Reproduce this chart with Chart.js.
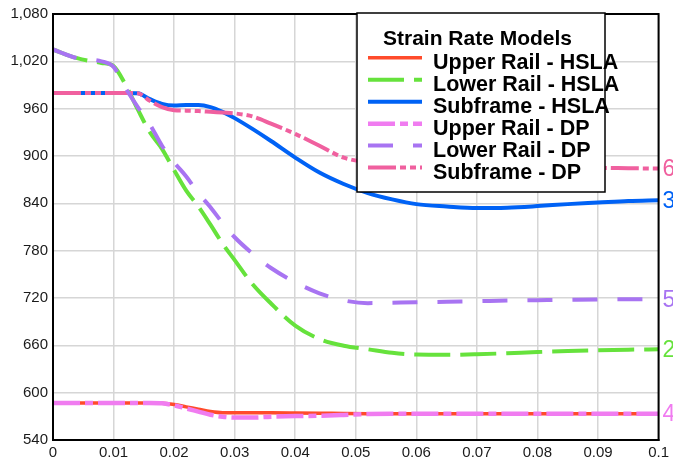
<!DOCTYPE html>
<html>
<head>
<meta charset="utf-8">
<script src="https://cdn.jsdelivr.net/npm/chart.js@4/dist/chart.umd.min.js"></script>
<style>
html,body{margin:0;padding:0;background:#fff;}
#wrap{width:673px;height:466px;}
</style>
</head>
<body>
<div id="wrap"><canvas id="c" width="673" height="466"></canvas></div>
<script>
// ---- data ----
const strain = [0, 0.004, 0.008, 0.01, 0.012, 0.014, 0.016, 0.018, 0.02, 0.022, 0.024, 0.026, 0.028, 0.03, 0.033, 0.036, 0.04, 0.044, 0.048, 0.052, 0.056, 0.06, 0.065, 0.07, 0.075, 0.08, 0.085, 0.09, 0.095, 0.1];

const upperRailHSLA = [587, 587, 587, 587, 587, 587, 587, 586.5, 585, 582, 579, 576, 574.5, 574.5, 574.5, 574.5, 574.3, 574, 573.6, 573.3, 573.2, 573.2, 573.2, 573.2, 573.2, 573.2, 573.2, 573.2, 573.2, 573.2];
const lowerRailHSLA = [1035, 1024, 1018, 1014, 990, 959, 930, 909, 882, 856, 836, 813, 789, 768, 737, 713, 685, 668, 659.5, 655, 650.5, 648.3, 648, 648.7, 650, 651.5, 652.7, 653.7, 654.5, 655];
const subframeHSLA = [980, 980, 980, 980, 980, 979.5, 972, 966, 964, 964.5, 964.5, 962, 956, 948, 934, 919, 898, 879, 864.5, 853, 845, 839, 836, 834, 834.5, 836.5, 839, 841, 843, 844];
const upperRailDP = [587, 587, 587, 587, 587, 587, 587, 586.5, 584, 580, 576, 572, 569.5, 568.5, 568.5, 569.5, 570.3, 570.8, 571.8, 573, 573.2, 573.2, 573.2, 573.2, 573.2, 573.2, 573.2, 573.2, 573.2, 573.2];
const lowerRailDP = [1035, 1024, 1020, 1013, 986, 962, 940, 913, 892, 874, 853, 835, 815, 797, 776, 758, 740, 726, 717, 713.5, 714, 714.5, 715.3, 716, 716.8, 717.3, 717.8, 718.2, 718.4, 718.5];
const subframeDP = [980, 980, 980, 980, 980, 979.5, 970, 962, 958, 957.5, 957, 956, 955, 954, 950, 941, 928, 913, 898, 892, 889, 887, 886, 885.5, 885, 885, 885, 885, 884.5, 884];

const seriesNames = ['Upper Rail - HSLA', 'Lower Rail - HSLA', 'Subframe - HSLA', 'Upper Rail - DP', 'Lower Rail - DP', 'Subframe - DP'];
const endLabels = [null, '2', '3', '4', '5', '6'];
const legendTitle = 'Strain Rate Models';

const xTickValues = [0, 0.01, 0.02, 0.03, 0.04, 0.05, 0.06, 0.07, 0.08, 0.09, 0.1];
const xTickLabels = ['0', '0.01', '0.02', '0.03', '0.04', '0.05', '0.06', '0.07', '0.08', '0.09', '0.1'];
const yTickValues = [540, 600, 660, 720, 780, 840, 900, 960, 1020, 1080];
const yTickLabels = ['540', '600', '660', '720', '780', '840', '900', '960', '1,020', '1,080'];

// ---- styles ----
const FONT = '"Liberation Sans", Arial, Helvetica, sans-serif';
const colors = ['#FF4B2B', '#66E23C', '#0062F5', '#F07CF0', '#A874F2', '#F0609F'];
const dashes = [[], [36, 10], [], [27, 5, 8, 5], [25, 20], [28, 4, 6, 4, 6, 4]];
const widths = [3.5, 4, 4, 4.5, 4, 4];
const orders = [1, 1, 1, 0, 0, 0];
const values = [upperRailHSLA, lowerRailHSLA, subframeHSLA, upperRailDP, lowerRailDP, subframeDP];

const datasets = values.map((vals, i) => ({
  label: seriesNames[i],
  data: strain.map((x, k) => ({x: x, y: vals[k]})),
  borderColor: colors[i],
  backgroundColor: colors[i],
  borderWidth: widths[i],
  borderDash: dashes[i],
  pointRadius: 0,
  cubicInterpolationMode: 'monotone',
  fill: false,
  order: orders[i]
}));

const decor = {
  id: 'decor',
  afterDatasetsDraw(chart) {
    const ctx = chart.ctx, a = chart.chartArea;
    const ys = chart.scales.y;
    ctx.save();
    // frame
    ctx.strokeStyle = '#000';
    ctx.lineWidth = 2;
    ctx.strokeRect(a.left, a.top, a.right - a.left, a.bottom - a.top);
    // end labels
    ctx.font = '23px ' + FONT;
    ctx.textBaseline = 'middle';
    ctx.textAlign = 'left';
    values.forEach((vals, i) => {
      if (!endLabels[i]) return;
      ctx.fillStyle = colors[i];
      ctx.fillText(endLabels[i], a.right + 4, ys.getPixelForValue(vals[vals.length - 1]) + 1);
    });
    // legend
    const bx = 357, by = 13, bw = 248, bh = 179;
    ctx.fillStyle = '#fff';
    ctx.fillRect(bx, by, bw, bh);
    ctx.strokeStyle = '#000';
    ctx.lineWidth = 1.5;
    ctx.strokeRect(bx, by, bw, bh);
    ctx.fillStyle = '#000';
    ctx.textBaseline = 'alphabetic';
    ctx.font = 'bold 21px ' + FONT;
    ctx.fillText(legendTitle, 383, 45);
    seriesNames.forEach((name, i) => {
      const base = 69.3 + i * 21.95;
      const ly = base - 11.5;
      ctx.save();
      ctx.strokeStyle = colors[i];
      ctx.lineWidth = widths[i];
      ctx.setLineDash(dashes[i]);
      ctx.beginPath();
      ctx.moveTo(368, ly);
      ctx.lineTo(422, ly);
      ctx.stroke();
      ctx.restore();
      ctx.fillStyle = '#000';
      ctx.font = 'bold 21.5px ' + FONT;
      ctx.fillText(name, 433, base);
    });
    ctx.restore();
  }
};

new Chart(document.getElementById('c'), {
  type: 'line',
  data: { datasets: datasets },
  options: {
    responsive: false,
    devicePixelRatio: 1,
    animation: false,
    layout: { padding: { top: 12, right: 10, left: 0, bottom: 0 } },
    plugins: { legend: { display: false }, tooltip: { enabled: false } },
    scales: {
      x: {
        type: 'linear', min: 0, max: 0.1,
        afterBuildTicks(s) { s.ticks = xTickValues.map(v => ({ value: v })); },
        afterFit(s) { s.height = 26; },
        ticks: {
          autoSkip: false, maxRotation: 0, padding: 4, color: '#1a1a1a',
          font: { family: FONT, size: 15 },
          callback: (v, i) => xTickLabels[i]
        },
        grid: { color: '#d6d6d6', lineWidth: 1.5, drawTicks: false },
        border: { color: '#000', width: 2 }
      },
      y: {
        type: 'linear', min: 540, max: 1080,
        afterBuildTicks(s) { s.ticks = yTickValues.map(v => ({ value: v })); },
        afterFit(s) { s.width = 53; },
        ticks: {
          autoSkip: false, padding: 5, color: '#1a1a1a',
          font: { family: FONT, size: 15 },
          callback: (v, i) => yTickLabels[i]
        },
        grid: { color: '#d6d6d6', lineWidth: 1.5, drawTicks: false },
        border: { color: '#000', width: 2 }
      }
    }
  },
  plugins: [decor]
});
</script>
</body>
</html>
